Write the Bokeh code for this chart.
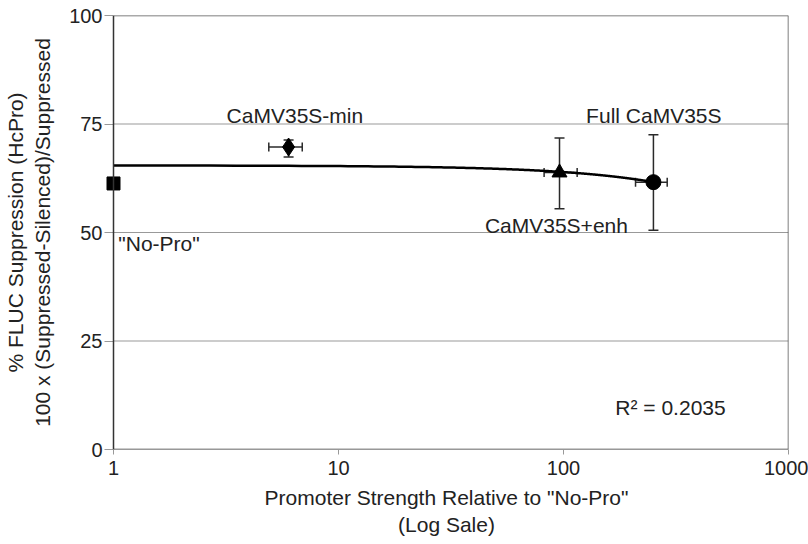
import numpy as np
from bokeh.plotting import figure
from bokeh.models import ColumnDataSource, Whisker, TeeHead, FixedTicker, Label, Span
from bokeh.core.properties import value
from bokeh.embed import file_html
from bokeh.resources import INLINE

# data
names = ["No-Pro", "CaMV35S-min", "CaMV35S+enh", "Full CaMV35S"]
strength = [1.0, 6.0, 96.0, 251.0]
strength_lo = [1.0, 4.9, 82.0, 209.0]
strength_hi = [1.0, 6.9, 115.0, 289.0]
suppression = [61.3, 69.7, 63.8, 61.6]
supp_lo = [61.3, 67.4, 55.5, 50.5]
supp_hi = [61.3, 71.3, 71.8, 72.5]
markers = ["square", "diamond", "triangle", "circle"]
marker_sizes = [13, 18, 15, 15]
y_ticks = [0, 25, 50, 75, 100]
x_ticks = [1, 10, 100, 1000]
r2_text = "R² = 0.2035"

FONT = "Liberation Sans"
AXC = "#333333"

# the frame starts a little left of x=1 so the marker at x=1 is not clipped;
# the visible axis line is drawn at x=1
p = figure(width=808, height=544, x_axis_type="log", x_range=(0.912, 1000), y_range=(0, 100),
           output_backend="svg", toolbar_location=None,
           min_border_left=104, min_border_right=20, min_border_top=15, min_border_bottom=95)
p.background_fill_color = "white"
p.border_fill_color = "white"
p.outline_line_color = None
p.xgrid.grid_line_color = None
p.ygrid.grid_line_color = None

# gridlines and plot-area border, from the tick lists
grid_y = y_ticks[1:-1]
p.segment(x0=[x_ticks[0]] * len(grid_y), x1=[x_ticks[-1]] * len(grid_y), y0=grid_y, y1=grid_y,
          line_color="#999999", line_width=1)
p.segment(x0=[x_ticks[0]], x1=[x_ticks[-1]], y0=[y_ticks[-1]], y1=[y_ticks[-1]],
          line_color="#555555", line_width=1.5)
p.segment(x0=[x_ticks[0]], x1=[x_ticks[-1]], y0=[y_ticks[0]], y1=[y_ticks[0]],
          line_color=AXC, line_width=1.5)
p.add_layout(Span(location=x_ticks[0], dimension="height", line_color=AXC, line_width=1.5))
p.add_layout(Span(location=x_ticks[-1], dimension="height", line_color="#555555", line_width=1.5))

# axes
p.xaxis.ticker = FixedTicker(ticks=x_ticks, minor_ticks=[])
p.xaxis.major_label_overrides = {t: str(t) for t in x_ticks}
p.yaxis.ticker = FixedTicker(ticks=y_ticks, minor_ticks=[])
for ax in (p.xaxis[0], p.yaxis[0]):
    ax.axis_line_color = None
    ax.major_tick_line_color = "#999999"
    ax.minor_tick_line_color = None
    ax.major_label_text_font = FONT
    ax.major_label_text_font_size = "20px"
    ax.major_label_text_color = "#222222"
    ax.axis_label_text_font = FONT
    ax.axis_label_text_font_size = "21px"
    ax.axis_label_text_font_style = "normal"
    ax.axis_label_text_color = "#222222"
p.xaxis.major_tick_out = 5
p.xaxis.major_tick_in = 0
p.yaxis.major_tick_out = 0
p.yaxis.major_tick_in = 9
p.xaxis.major_label_standoff = 6
p.yaxis.major_label_standoff = 2
p.xaxis.axis_label = 'Promoter Strength Relative to "No-Pro"\n(Log Sale)'
p.xaxis.axis_label_standoff = 8
p.yaxis.axis_label = "% FLUC Suppression (HcPro)\n100 x (Suppressed-Silenced)/Suppressed"
p.yaxis.axis_label_standoff = 12

src = ColumnDataSource(dict(x=strength, xlo=strength_lo, xhi=strength_hi,
                            y=suppression, ylo=supp_lo, yhi=supp_hi,
                            marker=markers, size=marker_sizes))

# trend line (linear least-squares fit, drawn on log axis)
b, a = np.polyfit(strength, suppression, 1)
xs = np.linspace(min(strength), max(strength), 300)
p.line(xs, a + b * xs, line_color="black", line_width=2.5)

# error bars
EC = "#2a2a2a"
p.add_layout(Whisker(source=src, base="x", lower="ylo", upper="yhi", dimension="height",
                     line_color=EC, line_width=1.5,
                     upper_head=TeeHead(size=10, line_color=EC, line_width=1.5),
                     lower_head=TeeHead(size=10, line_color=EC, line_width=1.5)))
p.add_layout(Whisker(source=src, base="y", lower="xlo", upper="xhi", dimension="width",
                     line_color=EC, line_width=1.5,
                     upper_head=TeeHead(size=9, line_color=EC, line_width=1.5),
                     lower_head=TeeHead(size=9, line_color=EC, line_width=1.5)))

p.scatter(x="x", y="y", marker="marker", size="size", source=src,
          fill_color="black", line_color="black")

# point labels
lab_x = [1.05, 6.4, 93.0, 252.0]
lab_y = [47.5, 77.0, 51.6, 77.0]
lab_text = ['"No-Pro"', "CaMV35S-min", "CaMV35S+enh", "Full CaMV35S"]
lab_align = ["left", "center", "center", "center"]
p.text(x=lab_x, y=lab_y, text=lab_text, text_align=lab_align, text_baseline="middle",
       text_font=value(FONT), text_font_size="21px", text_color="#222222")

p.add_layout(Label(x=170, y=9.7, text=r2_text, text_align="left", text_baseline="middle",
                   text_font=FONT, text_font_size="21px", text_color="#222222"))

open("out.html", "w").write(file_html(p, INLINE))
